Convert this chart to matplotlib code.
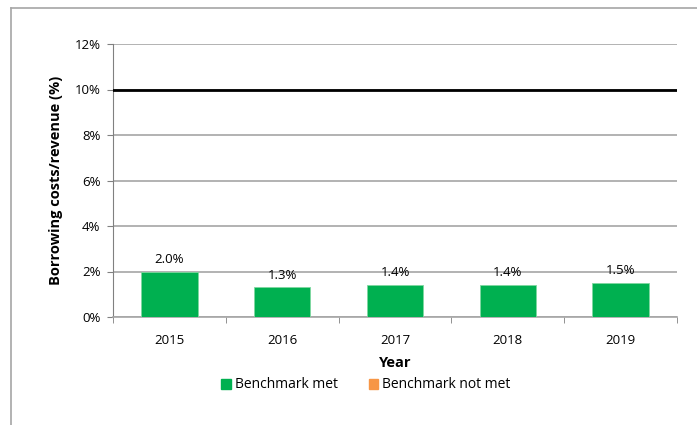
import matplotlib
matplotlib.use("Agg")
import matplotlib.pyplot as plt
from matplotlib.patches import Patch
from matplotlib.lines import Line2D
import numpy as np

years = ["2015", "2016", "2017", "2018", "2019"]
values = [2.0, 1.3, 1.4, 1.4, 1.5]
benchmark = 10.0
yticks = [0, 2, 4, 6, 8, 10, 12]

plt.rcParams['font.family'] = ['Open Sans', 'DejaVu Sans']

W, H = 697, 425
fig = plt.figure(figsize=(W/100, H/100), dpi=100)
ax = fig.add_axes([113/W, 1-317/H, (677-113)/W, (317-44)/H])

x = np.arange(len(years))
green = "#00B050"
orange = "#F79646"
ax.bar(x, values, width=0.5, color=green, edgecolor="#7FD8A0", linewidth=0.6, zorder=3)
for xi, v in zip(x, values):
    ax.text(xi, v + 0.25, f"{v:.1f}%", ha="center", va="bottom", fontsize=9.5, zorder=4)

ax.axhline(benchmark, color="black", linewidth=2, zorder=4)

ax.set_xlim(-0.5, len(years) - 0.5)
ax.set_ylim(0, 12)
ax.set_yticks(yticks)
ax.set_yticklabels([f"{t}%" for t in yticks], fontsize=9.5)
ax.yaxis.grid(True, color="#A6A6A6", linewidth=1.2, zorder=0)
ax.set_axisbelow(True)

ax.set_xticks(x)
ax.set_xticklabels(years, fontsize=9.5)
ax.tick_params(axis="x", length=0, pad=12)
ax.set_xticks(np.arange(len(years) + 1) - 0.5, minor=True)
ax.tick_params(axis="x", which="minor", length=4, color="#808080")
ax.tick_params(axis="y", length=4, color="#808080", pad=5)

for s in ["top", "right"]:
    ax.spines[s].set_visible(False)
ax.spines["left"].set_color("#808080")
ax.spines["bottom"].set_color("#A6A6A6")
ax.spines["bottom"].set_linewidth(1.2)

ax.set_ylabel("Borrowing costs/revenue (%)", fontsize=10.5, fontweight="bold", labelpad=8)
ax.set_xlabel("Year", fontsize=10.5, fontweight="bold", labelpad=7)

handles = [Patch(facecolor=green, edgecolor=green, label="Benchmark met"),
           Patch(facecolor=orange, edgecolor=orange, label="Benchmark not met")]
fig.legend(handles=handles, loc="center", bbox_to_anchor=(366/W, 1-385/H), ncol=2,
           frameon=False, fontsize=10, handlelength=0.7, handleheight=0.7,
           handletextpad=0.3, columnspacing=2.2)

# outer frame
fig.add_artist(Line2D([11/W, 11/W], [0, 1-8/H], color="#A6A6A6", linewidth=1.2, transform=fig.transFigure))
fig.add_artist(Line2D([11/W, 1], [1-8/H, 1-8/H], color="#A6A6A6", linewidth=1.2, transform=fig.transFigure))

fig.savefig("out.png", dpi=100)
